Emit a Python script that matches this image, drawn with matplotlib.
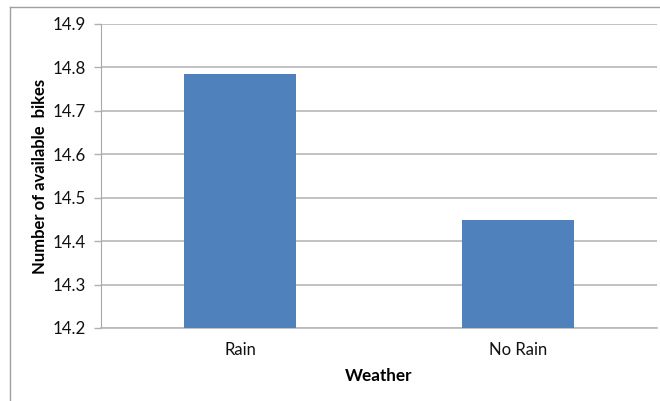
import matplotlib.pyplot as plt
from matplotlib.lines import Line2D

weather = ["Rain", "No Rain"]
bikes = [14.784, 14.449]
yticks = [14.2, 14.3, 14.4, 14.5, 14.6, 14.7, 14.8, 14.9]

plt.rcParams["font.family"] = ["Lato", "DejaVu Sans"]

fig = plt.figure(figsize=(6.6, 4.01), dpi=100)
ax = fig.add_axes([101 / 660, 1 - 328 / 401, 556 / 660, 304 / 401])

x = range(len(weather))
ax.bar(x, [b - 14.2 for b in bikes], bottom=14.2, width=0.403, color="#4f81bd", zorder=3)

ax.set_xlim(-0.5, 1.5)
ax.set_ylim(14.2, 14.9)
ax.set_yticks(yticks)
ax.set_yticklabels([f"{t:.1f}" for t in yticks], fontsize=12.2, color="#111111")
ax.set_xticks(list(x))
ax.set_xticklabels(weather, fontsize=12, color="#111111")
ax.tick_params(axis="x", length=0, pad=10)
ax.tick_params(axis="y", length=5, color="#b0b0b0", width=1, pad=6)
ax.grid(axis="y", color="#b8b8b8", linewidth=1.2, zorder=0)

for side in ["top", "right"]:
    ax.spines[side].set_visible(False)
ax.spines["left"].set_color("#a8a8a8")
ax.spines["bottom"].set_color("#b8b8b8")
ax.spines["bottom"].set_linewidth(1.2)

ax.set_xlabel("Weather", fontsize=12.3, fontweight="bold", labelpad=7)
ax.set_ylabel("Number of available  bikes", fontsize=12, fontweight="bold", labelpad=3)

# chart area frame (left and top edges)
fig.add_artist(Line2D([10 / 660, 10 / 660], [0, 1 - 7 / 401], color="#a0a0a0", lw=1))
fig.add_artist(Line2D([10 / 660, 1], [1 - 7 / 401, 1 - 7 / 401], color="#a0a0a0", lw=1))

plt.savefig("out.png")
